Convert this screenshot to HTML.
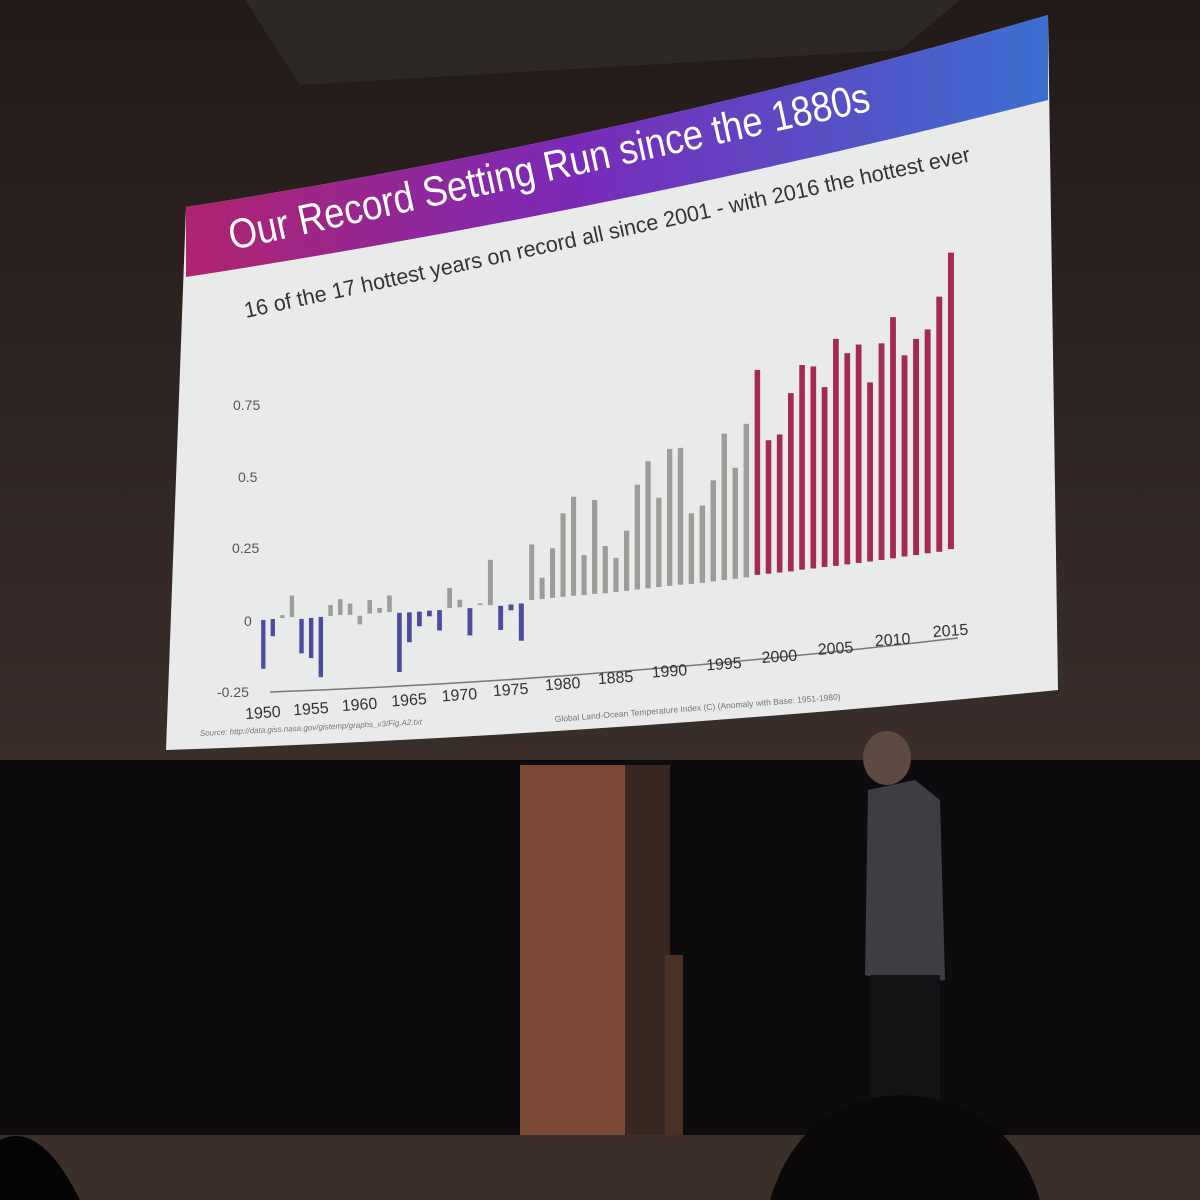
<!DOCTYPE html>
<html><head><meta charset="utf-8"><style>
html,body{margin:0;padding:0;background:#1a1514;}
svg{display:block}
text{font-family:"Liberation Sans",sans-serif}
</style></head><body>
<svg id="scene" width="1200" height="1200" viewBox="0 0 1200 1200">
<defs>
<linearGradient id="hdr" x1="0" y1="0" x2="1" y2="0">
<stop offset="0" stop-color="#b0236e"/><stop offset="0.45" stop-color="#7a2ab8"/><stop offset="1" stop-color="#3a6fd0"/>
</linearGradient>
<linearGradient id="wall" x1="0" y1="0" x2="0" y2="1">
<stop offset="0" stop-color="#221a19"/><stop offset="1" stop-color="#3a2e2b"/>
</linearGradient>
</defs>
<rect x="0" y="0" width="1200" height="770" fill="url(#wall)"/>
<polygon points="245,0 960,0 900,50 300,85" fill="#2d2725"/>
<rect x="0" y="760" width="1200" height="440" fill="#0d0b0d"/>
<rect x="0" y="1135" width="1200" height="65" fill="#3a2f29"/>
<rect x="520" y="765" width="105" height="370" fill="#7a4a34"/>
<rect x="625" y="765" width="45" height="370" fill="#3a2620"/>
<rect x="665" y="955" width="18" height="180" fill="#4a3026"/>
<g>
<ellipse cx="887" cy="758" rx="24" ry="27" fill="#5e4a42"/>
<path d="M868,790 L915,780 L940,800 L945,980 L900,985 L865,975 Z" fill="#3e3d43"/>
<rect x="870" y="975" width="70" height="130" fill="#141215"/>
</g>
<path d="M0,1200 L0,1140 Q40,1120 80,1200 Z" fill="#050405"/>
<path d="M770,1200 Q800,1100 900,1095 Q1010,1100 1040,1200 Z" fill="#0a0809"/>

<path d="M186,207 Q620,140 1048,15 L1058,690 Q610,735 166,750 Z" fill="#e8ebea"/>
<path d="M186,207 Q620,140 1048,15 L1048,100 Q620,210 186,277 Z" fill="url(#hdr)"/>
<text x="0" y="0" transform="translate(232,250) rotate(-12.3)" font-size="42" textLength="655" lengthAdjust="spacingAndGlyphs" fill="#ffffff">Our Record Setting Run since the 1880s</text>
<text x="0" y="0" transform="translate(246,318) rotate(-12.2)" font-size="22" textLength="742" lengthAdjust="spacingAndGlyphs" fill="#333">16 of the 17 hottest years on record all since 2001 - with 2016 the hottest ever</text>

<g font-size="14" fill="#555">
<text x="233" y="410">0.75</text>
<text x="238" y="482">0.5</text>
<text x="232" y="553">0.25</text>
<text x="244" y="626">0</text>
<text x="217" y="697">-0.25</text>
</g>
<path d="M270,692 Q600,680 958,638" stroke="#777" stroke-width="1.5" fill="none"/>
<g id="xlabels" font-size="16" fill="#333"></g>
<text transform="translate(200,736) rotate(-3)" font-size="8" fill="#777" font-style="italic">Source: http://data.giss.nasa.gov/gistemp/graphs_v3/Fig.A2.txt</text>
<text transform="translate(555,722) rotate(-4.5)" font-size="8.5" fill="#777">Global Land-Ocean Temperature Index (C) (Anomaly with Base: 1951-1980)</text>
<g id="bars"></g>
</svg>
<script>
const years = Array.from({length:66},(_,i)=>1950+i);
const lowValues = [-0.17,-0.06,0,0,-0.13,-0.15,-0.22,-0.01,-0.01,-0.013,-0.05,-0.016,-0.017,-0.018,-0.23,-0.13,-0.078,-0.047,-0.1,-0.025,-0.026,-0.128,-0.026,-0.03,-0.12,-0.055,-0.165,
-0.027,-0.027,-0.027,-0.027,-0.027,-0.028,-0.028,-0.03,-0.029,-0.029,-0.028,-0.028,-0.027,-0.027,-0.027,-0.028,-0.028,-0.027,-0.026,-0.026,-0.025,
-0.02,-0.02,-0.02,-0.02,-0.018,-0.018,-0.017,-0.017,-0.016,-0.015,-0.014,-0.013,-0.011,-0.009,-0.008,-0.006,-0.005,0];
const highValues = [0,0,0.01,0.075,-0.01,-0.01,-0.01,0.028,0.045,0.026,-0.02,0.031,0,0.04,-0.024,-0.026,-0.027,-0.027,-0.029,0.045,0,-0.033,-0.02,0.128,-0.036,-0.035,-0.035,
0.167,0.047,0.146,0.264,0.318,0.111,0.299,0.135,0.09,0.181,0.337,0.415,0.284,0.45,0.45,0.218,0.241,0.325,0.484,0.361,0.51,
0.694,0.445,0.461,0.601,0.695,0.686,0.61,0.774,0.72,0.746,0.61,0.742,0.829,0.692,0.745,0.774,0.884,1.033];
const categories = ["b","b","g","g","b","b","b","g","g","g","g","g","g","g","b","b","b","b","b","g","g","b","g","g","b","b","b",
"g","g","g","g","g","g","g","g","g","g","g","g","g","g","g","g","g","g","g","g","g",
"r","r","r","r","r","r","r","r","r","r","r","r","r","r","r","r","r","r"];
const tickLabels = ["1950","1955","1960","1965","1970","1975","1980","1885","1990","1995","2000","2005","2010","2015"];

const colors = {b:"#4b4d9c", g:"#9b9d99", r:"#a52a52"};
function xPos(i){ return 263.3 + 9.487*i + 0.0168*i*i; }
function zeroY(x){ return 620 - 0.103*(x-263); }
function yPos(v,x){ return zeroY(x) - v*287; }
const NS="http://www.w3.org/2000/svg";
const bars=document.getElementById('bars');
years.forEach((yr,i)=>{
  const x=xPos(i), w=4.3+0.026*i;
  const y1=yPos(highValues[i],x), y2=yPos(lowValues[i],x);
  const r=document.createElementNS(NS,'rect');
  r.setAttribute('x',(x-w/2).toFixed(2));
  r.setAttribute('y',y1.toFixed(2));
  r.setAttribute('width',w.toFixed(2));
  r.setAttribute('height',Math.max(1.5,y2-y1).toFixed(2));
  r.setAttribute('fill',colors[categories[i]]);
  
  
  bars.appendChild(r);
});
const xl=document.getElementById('xlabels');
tickLabels.forEach((t,k)=>{
  const x=xPos(k*5);
  const y=718 - 0.078*(x-263) - 0.00006*(x-263)*(x-263);
  const el=document.createElementNS(NS,'text');
  el.setAttribute('text-anchor','middle');
  el.setAttribute('transform','translate('+x.toFixed(1)+','+y.toFixed(1)+') rotate(-4)');
  el.textContent=t;
  
  
  xl.appendChild(el);
});
</script>
</body></html>
